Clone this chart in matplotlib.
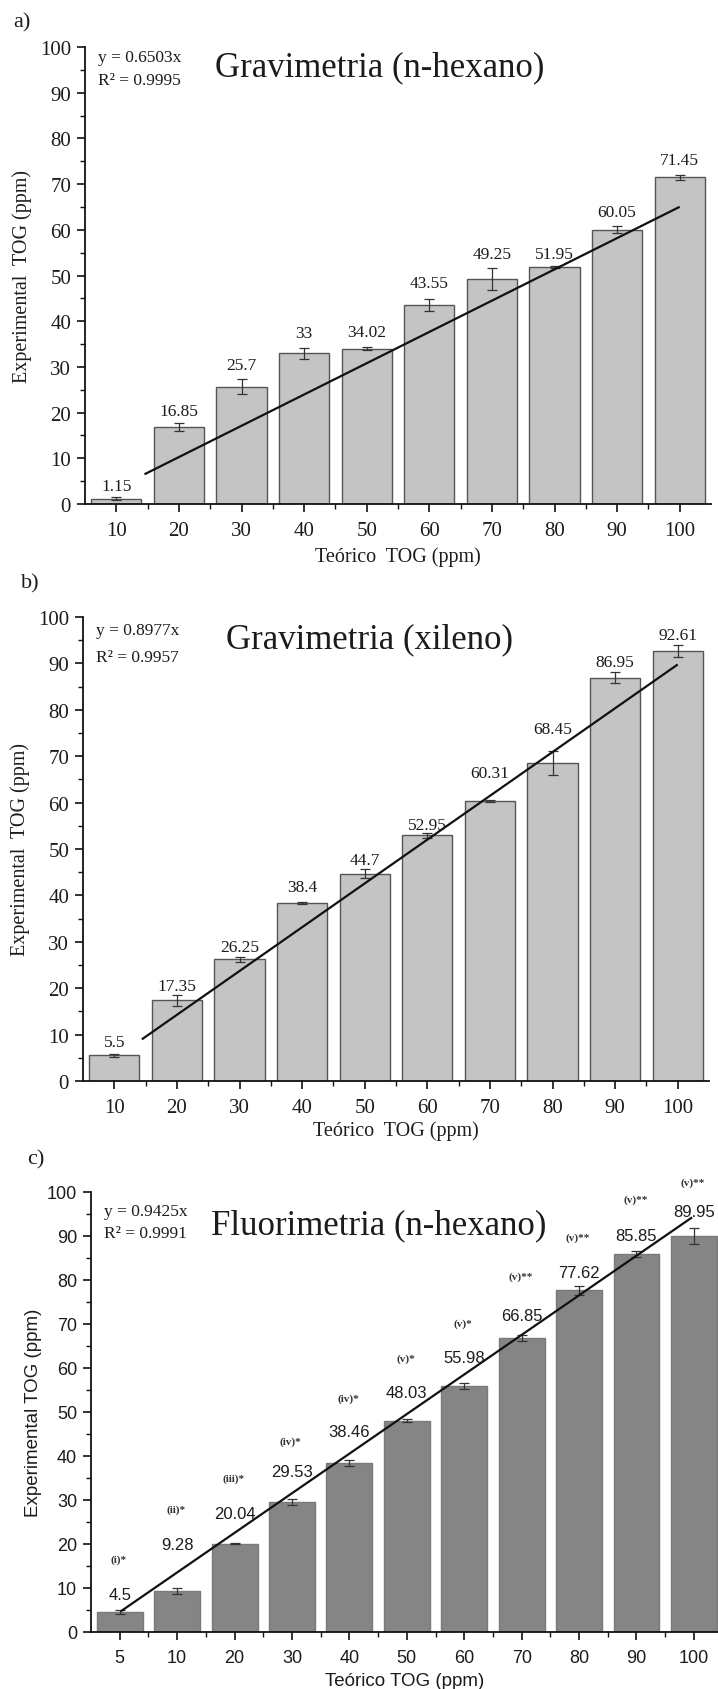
import numpy as np
import matplotlib
matplotlib.use("Agg")
import matplotlib.pyplot as plt
from matplotlib.ticker import MultipleLocator, FixedLocator

# a) Gravimetria (n-hexano)
a_cat = ["10", "20", "30", "40", "50", "60", "70", "80", "90", "100"]
a_val = [1.15, 16.85, 25.7, 33, 34.02, 43.55, 49.25, 51.95, 60.05, 71.45]
a_err = [0.3, 0.8, 1.6, 1.2, 0.3, 1.3, 2.5, 0.2, 0.7, 0.6]
a_slope, a_r2 = 0.6503, 0.9995
a_fit_x = [10.0, 100.0]

# b) Gravimetria (xileno)
b_cat = ["10", "20", "30", "40", "50", "60", "70", "80", "90", "100"]
b_val = [5.5, 17.35, 26.25, 38.4, 44.7, 52.95, 60.31, 68.45, 86.95, 92.61]
b_err = [0.3, 1.2, 0.5, 0.2, 0.9, 0.6, 0.2, 2.6, 1.2, 1.3]
b_slope, b_r2 = 0.8977, 0.9957
b_fit_x = [10.0, 100.0]

# c) Fluorimetria (n-hexano)
c_cat = ["5", "10", "20", "30", "40", "50", "60", "70", "80", "90", "100"]
c_val = [4.5, 9.28, 20.04, 29.53, 38.46, 48.03, 55.98, 66.85, 77.62, 85.85, 89.95]
c_err = [0.5, 0.7, 0.1, 0.7, 0.7, 0.3, 0.7, 0.6, 1.1, 0.7, 1.8]
c_notes = ["(i)*", "(ii)*", "(iii)*", "(iv)*", "(iv)*", "(v)*", "(v)*",
           "(v)**", "(v)**", "(v)**", "(v)**"]
c_slope, c_r2 = 0.9425, 0.9991
c_fit_x = [5.0, 100.0]

# where the value labels sit above each bar (data units), as in the figure
a_lab_dy = [2.75, 3.5, 4.8, 4.5, 3.7, 4.7, 5.5, 2.8, 3.8, 3.8]
b_lab_dy = [2.9, 3.1, 2.6, 3.4, 3.0, 2.25, 6.0, 7.5, 3.3, 3.6]
c_lab_dy = [4.0, 10.7, 7.0, 7.0, 7.0, 6.3, 6.5, 5.1, 4.0, 4.2, 5.6]
c_note_dy = [12.1, 18.7, 14.9, 13.8, 14.6, 14.1, 14.3, 14.0, 12.2, 12.5, 12.2]

SERIF = ["Liberation Serif", "DejaVu Serif"]
SANS = ["Liberation Sans", "DejaVu Sans"]
TXT = "#1c1c1c"

W, H = 718, 1690


def rect(l, t, r, b):
    return [l / W, 1 - b / H, (r - l) / W, (b - t) / H]


def panel(ax, cats, vals, errs, lab_dy, slope, r2, fit_x, fit_pos, title,
          xlim, face, edge, font, tick_fs, lab_fs, val_fs, ylabel, xlabel,
          ylab_x, xlab_y, title_xy, eq_y):
    pos = np.arange(len(cats))
    ax.bar(pos, vals, width=0.8, color=face, edgecolor=edge, linewidth=1.0,
           zorder=2)
    ax.errorbar(pos, vals, yerr=errs, fmt="none", ecolor="#333333",
                elinewidth=0.9, capsize=3.5, capthick=0.9, zorder=3)
    # linear fit y = slope * x drawn between its first and last x
    ax.plot(fit_pos, slope * np.array(fit_x), color="#111111", lw=1.6,
            zorder=4, solid_capstyle="butt")
    for p, v, d in zip(pos, vals, lab_dy):
        ax.text(p, v + d, "%g" % v, ha="center", va="center", fontsize=val_fs,
                family=font, color=TXT, zorder=5)

    ax.set_xlim(*xlim)
    ax.set_ylim(0, 100)
    ax.set_xticks(pos)
    ax.set_xticklabels(cats)
    ax.xaxis.set_minor_locator(FixedLocator(pos[:-1] + 0.5))
    ax.yaxis.set_major_locator(MultipleLocator(10))
    ax.yaxis.set_minor_locator(MultipleLocator(5))
    for s in ["top", "right"]:
        ax.spines[s].set_visible(False)
    for s in ["left", "bottom"]:
        ax.spines[s].set_linewidth(1.3)
        ax.spines[s].set_color("#111111")
    ax.tick_params(which="major", direction="out", length=6, width=1.2,
                   colors="#111111", labelsize=tick_fs, labelcolor=TXT)
    ax.tick_params(axis="x", which="major", pad=6)
    ax.tick_params(axis="y", which="major", pad=4)
    ax.tick_params(which="minor", direction="out", length=3.5, width=1.0,
                   colors="#111111")
    for lb in ax.get_xticklabels() + ax.get_yticklabels():
        lb.set_family(font)

    ax.set_ylabel(ylabel, fontsize=lab_fs, family=font, color=TXT)
    ax.set_xlabel(xlabel, fontsize=lab_fs, family=font, color=TXT)
    ax.yaxis.set_label_coords(ylab_x, 0.5)
    ax.xaxis.set_label_coords(0.5, xlab_y)

    ax.text(title_xy[0], title_xy[1], title, transform=ax.transAxes,
            ha="center", va="center", fontsize=25, family=SERIF, color=TXT)
    ax.text(0.02, eq_y[0], "y = %.4fx" % slope, transform=ax.transAxes,
            ha="left", va="center", fontsize=12.5, family=SERIF, color=TXT)
    ax.text(0.02, eq_y[1], "R² = %.4f" % r2, transform=ax.transAxes,
            ha="left", va="center", fontsize=12.5, family=SERIF, color=TXT)


fig = plt.figure(figsize=(W / 100, H / 100), dpi=100)
fig.patch.set_facecolor("white")

ax_a = fig.add_axes(rect(85, 48, 711, 505))
panel(ax_a, a_cat, a_val, a_err, a_lab_dy, a_slope, a_r2, a_fit_x, [0.45, 9.0],
      "Gravimetria (n-hexano)", (-0.5, 9.5), "#c4c4c4", "#555555", SERIF,
      15, 14.5, 12.5, "Experimental  TOG (ppm)", "Teórico  TOG (ppm)",
      -0.085, -0.092, (0.471, 0.956), (0.978, 0.928))

ax_b = fig.add_axes(rect(83, 618, 709, 1082))
panel(ax_b, b_cat, b_val, b_err, b_lab_dy, b_slope, b_r2, b_fit_x, [0.44, 9.0],
      "Gravimetria (xileno)", (-0.5, 9.5), "#c4c4c4", "#555555", SERIF,
      15, 14.5, 12.5, "Experimental  TOG (ppm)", "Teórico  TOG (ppm)",
      -0.085, -0.084, (0.458, 0.953), (0.972, 0.913))

ax_c = fig.add_axes(rect(91, 1193, 718, 1633))
panel(ax_c, c_cat, c_val, c_err, c_lab_dy, c_slope, c_r2, c_fit_x, [0.02, 9.97],
      "Fluorimetria (n-hexano)", (-0.5, 10.42), "#858585", "#7a7a7a", SANS,
      13, 13.5, 12, "Experimental TOG (ppm)", "Teórico TOG (ppm)",
      -0.078, -0.09, (0.459, 0.925), (0.957, 0.907))
for p, v, n, d in zip(range(len(c_cat)), c_val, c_notes, c_note_dy):
    ax_c.text(p - 0.02, v + d, n, ha="center", va="center", fontsize=8,
              family=SERIF, fontweight="bold", color="#333333", clip_on=False)

for lab, (x, y) in zip(["a)", "b)", "c)"], [(22, 23), (30, 584), (36, 1160)]):
    fig.text(x / W, 1 - y / H, lab, ha="center", va="center", fontsize=16,
             family=SERIF, color=TXT)

fig.savefig("out.png", dpi=100, facecolor="white")
